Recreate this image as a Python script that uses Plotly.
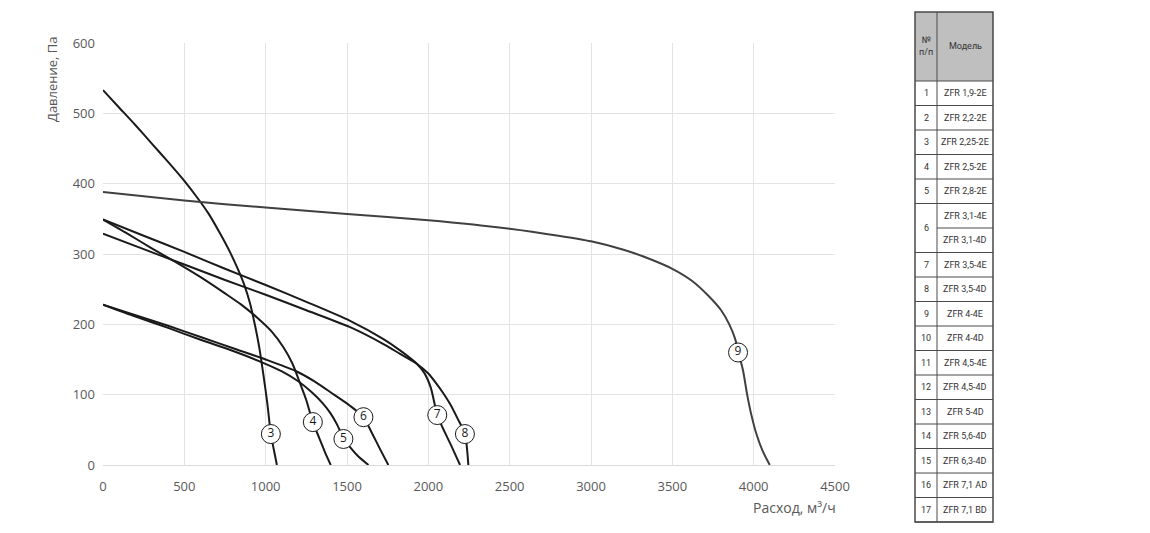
import plotly.graph_objects as go

# ---- Data ----
c3_x = [0, 100, 200, 300, 400, 500, 580, 650, 720, 780, 830, 870, 905, 935, 960, 985, 1010, 1032, 1050, 1069]
c3_y = [533, 508, 483, 457, 431, 404, 380, 357, 329, 303, 278, 255, 229, 198, 168, 130, 88, 44, 22, 0]

c4_x = [0, 150, 300, 450, 600, 750, 850, 950, 1040, 1110, 1165, 1210, 1250, 1290, 1330, 1365, 1400]
c4_y = [349, 329, 308, 288, 267, 244, 228, 209, 189, 167, 144, 117, 92, 61, 38, 18, 0]

c5_x = [0, 200, 400, 600, 800, 977, 1100, 1200, 1280, 1350, 1400, 1440, 1478, 1520, 1570, 1632]
c5_y = [228, 211, 195, 178, 162, 146, 133, 119, 104, 88, 73, 57, 38, 25, 12, 0]

c6_x = [0, 200, 400, 600, 800, 1000, 1181, 1300, 1420, 1520, 1601, 1650, 1700, 1754]
c6_y = [228, 213, 198, 182, 166, 150, 134, 119, 100, 84, 68, 47, 24, 0]

c7_x = [0, 250, 500, 750, 1000, 1250, 1519, 1724, 1826, 1929, 1975, 2015, 2055, 2090, 2140, 2195]
c7_y = [349, 326, 303, 279, 256, 232, 205, 179, 163, 144, 131, 110, 71, 52, 28, 0]

c8_x = [0, 250, 500, 750, 1000, 1250, 1519, 1724, 1826, 1929, 2000, 2052, 2095, 2133, 2180, 2225, 2246]
c8_y = [329, 307, 285, 263, 242, 220, 196, 172, 158, 144, 130, 115, 101, 87, 66, 44, 0]

c9_x = [0, 500, 1000, 1500, 2000, 2500, 2800, 3000, 3200, 3350, 3500, 3620, 3720, 3800, 3850, 3885, 3910, 3935, 3960, 3985, 4017, 4055, 4099]
c9_y = [388, 376, 366, 357, 348, 336, 326, 318, 306, 294, 279, 262, 241, 220, 200, 180, 157, 134, 100, 72, 44, 20, 0]

curve_names = ["3", "4", "5", "6", "7", "8", "9"]
label_x = [1032, 1290, 1478, 1601, 2055, 2225, 3904]
label_y = [44, 61, 37, 68, 71, 44, 160]

x_ticks = [0, 500, 1000, 1500, 2000, 2500, 3000, 3500, 4000, 4500]
y_ticks = [0, 100, 200, 300, 400, 500, 600]

table_header = ["№<br>п/п", "Модель"]
table_numbers = [1, 2, 3, 4, 5, 6, 6, 7, 8, 9, 10, 11, 12, 13, 14, 15, 16, 17]
table_models = ["ZFR 1,9-2E", "ZFR 2,2-2E", "ZFR 2,25-2E", "ZFR 2,5-2E", "ZFR 2,8-2E",
                "ZFR 3,1-4E", "ZFR 3,1-4D", "ZFR 3,5-4E", "ZFR 3,5-4D", "ZFR 4-4E",
                "ZFR 4-4D", "ZFR 4,5-4E", "ZFR 4,5-4D", "ZFR 5-4D", "ZFR 5,6-4D",
                "ZFR 6,3-4D", "ZFR 7,1 AD", "ZFR 7,1 BD"]

# ---- Figure ----
W, H = 1150, 533
OX, OY = 8, 8  # page offset of the figure (body margin)
L, R, T, B = 103 - OX, 1150 - (835 - OX), 43 - OY, 533 - (465 - OY)
PW, PH = W - L - R, H - T - B

def px(xp):
    # page pixel x -> paper
    return (xp - OX - L) / PW

def py(yp):
    # page pixel y -> paper
    return (H - B - (yp - OY)) / PH

fig = go.Figure()

curves = [(c3_x, c3_y, "#1a1a1a"), (c4_x, c4_y, "#1a1a1a"), (c5_x, c5_y, "#1a1a1a"),
          (c6_x, c6_y, "#1a1a1a"), (c7_x, c7_y, "#1a1a1a"), (c8_x, c8_y, "#1a1a1a"),
          (c9_x, c9_y, "#404040")]
for (xs, ys, col), name in zip(curves, curve_names):
    fig.add_trace(go.Scatter(x=xs, y=ys, mode="lines", name=name,
                             line=dict(color=col, width=2, shape="spline", smoothing=0.7),
                             hoverinfo="skip", cliponaxis=False))

fig.add_trace(go.Scatter(x=label_x, y=label_y, mode="markers+text", text=curve_names,
                         textposition="middle center",
                         textfont=dict(family="Open Sans", size=12, color="#1a1a1a"),
                         marker=dict(symbol="circle", size=19, color="white",
                                     line=dict(color="#1a1a1a", width=1)),
                         hoverinfo="skip", cliponaxis=False))

fig.update_xaxes(range=[0, 4500], tickvals=x_ticks, showgrid=True, gridcolor="#e3e3e3",
                 gridwidth=1, zeroline=False, showline=True, linecolor="#d9d9d9", linewidth=1,
                 tickfont=dict(family="Open Sans", size=13, color="#595959"),
                 ticks="", ticklabelstandoff=9, fixedrange=True)
fig.update_yaxes(range=[0, 600], tickvals=y_ticks, showgrid=True, gridcolor="#e3e3e3",
                 gridwidth=1, zeroline=False, showline=False,
                 tickfont=dict(family="Open Sans", size=13, color="#595959"),
                 ticks="", ticklabelstandoff=7, fixedrange=True)

annotations = [
    dict(text="Давление, Па", x=px(52), y=py(79), xref="paper", yref="paper",
         textangle=-90, showarrow=False, xanchor="center", yanchor="middle",
         font=dict(family="Open Sans", size=13, color="#595959")),
    dict(text="Расход, м³/ч", x=px(838), y=py(508), xref="paper", yref="paper",
         showarrow=False, xanchor="right", yanchor="middle",
         font=dict(family="Open Sans", size=14, color="#595959")),
]

shapes = []
# table geometry (page pixels)
tx0, tx1, tx2 = 915, 937, 993
ty0, ty_h, ty_end = 12, 81, 522
row_h = (ty_end - ty_h) / len(table_models)
tfont = dict(family="Roboto", size=9, color="#333333")
line_col = "#4a4a4a"

# header
shapes.append(dict(type="rect", xref="paper", yref="paper", x0=px(tx0), x1=px(tx2),
                   y0=py(ty_h), y1=py(ty0), fillcolor="#bfbfbf", line=dict(width=0), layer="below"))
annotations.append(dict(text=table_header[0], x=px((tx0 + tx1) / 2), y=py((ty0 + ty_h) / 2),
                        xref="paper", yref="paper", showarrow=False, font=tfont,
                        xanchor="center", yanchor="middle"))
annotations.append(dict(text=table_header[1], x=px((tx1 + tx2) / 2), y=py((ty0 + ty_h) / 2),
                        xref="paper", yref="paper", showarrow=False, font=tfont,
                        xanchor="center", yanchor="middle"))

# model cells
for i, m in enumerate(table_models):
    y0 = ty_h + i * row_h
    y1 = y0 + row_h
    annotations.append(dict(text=m, x=px((tx1 + tx2) / 2), y=py((y0 + y1) / 2),
                            xref="paper", yref="paper", showarrow=False, font=tfont,
                            xanchor="center", yanchor="middle"))
    shapes.append(dict(type="line", xref="paper", yref="paper", x0=px(tx1), x1=px(tx2),
                       y0=py(y1), y1=py(y1), line=dict(color=line_col, width=1)))

# number cells (merge equal consecutive numbers)
i = 0
while i < len(table_numbers):
    j = i
    while j + 1 < len(table_numbers) and table_numbers[j + 1] == table_numbers[i]:
        j += 1
    y0 = ty_h + i * row_h
    y1 = ty_h + (j + 1) * row_h
    annotations.append(dict(text=str(table_numbers[i]), x=px((tx0 + tx1) / 2), y=py((y0 + y1) / 2),
                            xref="paper", yref="paper", showarrow=False, font=tfont,
                            xanchor="center", yanchor="middle"))
    shapes.append(dict(type="line", xref="paper", yref="paper", x0=px(tx0), x1=px(tx1),
                       y0=py(y1), y1=py(y1), line=dict(color=line_col, width=1)))
    i = j + 1

# header bottom, column divider, outer border
shapes.append(dict(type="line", xref="paper", yref="paper", x0=px(tx0), x1=px(tx2),
                   y0=py(ty_h), y1=py(ty_h), line=dict(color=line_col, width=1)))
shapes.append(dict(type="line", xref="paper", yref="paper", x0=px(tx1), x1=px(tx1),
                   y0=py(ty_end), y1=py(ty0), line=dict(color=line_col, width=1)))
shapes.append(dict(type="rect", xref="paper", yref="paper", x0=px(tx0), x1=px(tx2),
                   y0=py(ty_end), y1=py(ty0), line=dict(color=line_col, width=1.5)))

fig.update_layout(width=W, height=H, margin=dict(l=L, r=R, t=T, b=B),
                  paper_bgcolor="white", plot_bgcolor="white", showlegend=False,
                  annotations=annotations, shapes=shapes)

fig.write_html("out.html")
